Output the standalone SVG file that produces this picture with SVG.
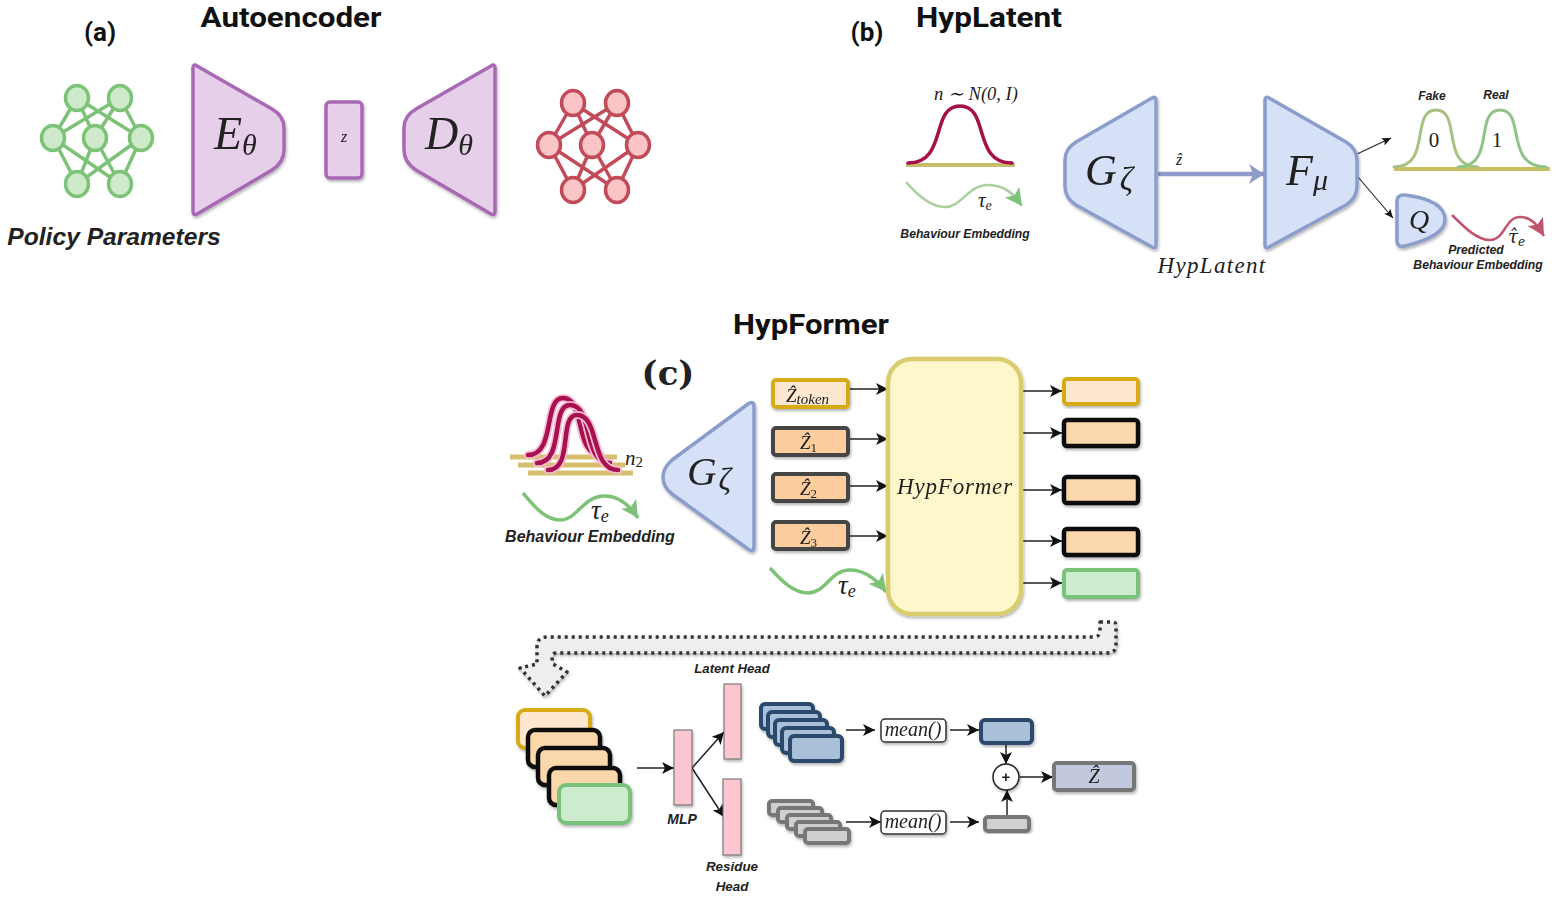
<svg xmlns="http://www.w3.org/2000/svg" width="1560" height="901" viewBox="0 0 1560 901">
<style>
.title{font-family:Roboto,"Open Sans",sans-serif;font-weight:700;fill:#111}
.math{font-family:"Liberation Serif",serif;font-style:italic;fill:#222}
.lab{font-family:"Liberation Sans",sans-serif;font-weight:700;font-style:italic;fill:#222}
.mid{text-anchor:middle}
.ln{fill:none;stroke:#222;stroke-width:1.5}
.thin{fill:none;stroke:#222;stroke-width:1.1}
.pur{fill:#e6d0e9;stroke:#a868b4;stroke-width:3.5;stroke-linejoin:round}
.blu{fill:#d6e1f8;stroke:#8a9dcb;stroke-width:3.5;stroke-linejoin:round}
.gn{fill:#cfe9cb;stroke:#7cc377;stroke-width:3.5}
.rn{fill:#fbc5c7;stroke:#c24b5a;stroke-width:3.5}
.gold{fill:#fde8cf;stroke:#d6ab12;stroke-width:4}
.blk{fill:#fbd8ac;stroke:#111;stroke-width:4.5}
.dk{fill:#fdcd9e;stroke:#444;stroke-width:4}
.grn{fill:#cdebcd;stroke:#78c27a;stroke-width:4}
.nav{fill:#a9c0d8;stroke:#2b4a6c;stroke-width:4}
.gry{fill:#cfcfcf;stroke:#777;stroke-width:4}
.pink{fill:#fbc6d0;stroke:#666;stroke-width:1}
.mean{fill:#fff;stroke:#333;stroke-width:1.5}
.bell{fill:none;stroke-linecap:round}
</style>
<defs>
<filter id="sh" x="-20%" y="-20%" width="140%" height="140%"><feDropShadow dx="1" dy="2" stdDeviation="1.5" flood-color="#000" flood-opacity="0.3"/></filter>
<marker id="a" markerUnits="userSpaceOnUse" markerWidth="14" markerHeight="12" refX="12" refY="6" orient="auto"><path d="M0 0L12 6L0 12L3 6Z" fill="#111"/></marker>
<marker id="as" markerUnits="userSpaceOnUse" markerWidth="10" markerHeight="8" refX="9" refY="4" orient="auto"><path d="M0 0L9 4L0 8L2 4Z" fill="#111"/></marker>
<marker id="ab" markerUnits="userSpaceOnUse" markerWidth="18" markerHeight="20" refX="15" refY="10" orient="auto"><path d="M0 0L15 10L0 20L4 10Z" fill="#8f9ccb"/></marker>
<marker id="ag" markerUnits="userSpaceOnUse" markerWidth="20" markerHeight="20" refX="17" refY="9" orient="auto"><path d="M0 0L17 9L0 18L4 9Z" fill="#7cc377"/></marker>
<marker id="ar" markerUnits="userSpaceOnUse" markerWidth="20" markerHeight="20" refX="17" refY="9" orient="auto"><path d="M0 0L17 9L0 18L4 9Z" fill="#c0566e"/></marker>
</defs>
<rect width="1560" height="901" fill="#fff"/>

<g id="titles">
<text class="title" x="291" y="26.5" font-size="28.5" text-anchor="middle" textLength="181" lengthAdjust="spacingAndGlyphs">Autoencoder</text>
<text class="title" x="100" y="41" font-size="26" text-anchor="middle">(a)</text>
<text class="title" x="989" y="26.5" font-size="28.5" text-anchor="middle" textLength="146" lengthAdjust="spacingAndGlyphs">HypLatent</text>
<text class="title" x="867" y="41" font-size="26" text-anchor="middle">(b)</text>
<text class="title" x="811" y="334" font-size="28.5" text-anchor="middle" textLength="156" lengthAdjust="spacingAndGlyphs">HypFormer</text>
<text x="668" y="385" font-size="34" font-weight="700" text-anchor="middle" font-family="'DejaVu Serif',serif" fill="#222">(c)</text>
</g>

<g id="connectors">
<path fill="none" stroke="#7cc377" stroke-width="3.5" d="M77 98L53 138M77 98L95 138M77 98L141 138M120 98L53 138M120 98L95 138M120 98L141 138M53 138L77 184M95 138L77 184M141 138L77 184M53 138L120 184M95 138L120 184M141 138L120 184"/>
<path fill="none" stroke="#c24b5a" stroke-width="3.5" d="M573 103L549 145M573 103L592 145M573 103L638 145M617 103L549 145M617 103L592 145M617 103L638 145M549 145L573 190M592 145L573 190M638 145L573 190M549 145L617 190M592 145L617 190M638 145L617 190"/>
<line x1="1158" y1="174" x2="1264" y2="174" fill="none" stroke="#8f9ccb" stroke-width="4.5" marker-end="url(#ab)"/>
<line class="thin" x1="1355" y1="155" x2="1391" y2="138" marker-end="url(#as)"/>
<line class="thin" x1="1358" y1="177" x2="1393" y2="218" marker-end="url(#as)"/>
<path fill="none" stroke="#a9cf9f" stroke-width="2.5" marker-end="url(#ag)" d="M906 182C920 198 932 207 945 207C962 207 968 185 988 185C1006 185 1014 195 1022 206"/>
<path fill="none" stroke="#c0566e" stroke-width="2.5" marker-end="url(#ar)" d="M1452 215C1465 228 1477 240 1490 240C1505 240 1505 217 1520 217C1532 217 1538 226 1544 236"/>
<path fill="none" stroke="#7cc377" stroke-width="3.5" marker-end="url(#ag)" d="M523 493C535 507 545 520 560 520C578 520 582 496 605 496C620 496 630 506 638 518"/>
<path fill="none" stroke="#7cc377" stroke-width="3.5" marker-end="url(#ag)" d="M770 568C782 581 793 593 808 593C826 593 830 570 850 570C866 570 877 580 886 592"/>
<line class="ln" x1="849" y1="389" x2="888" y2="389" marker-end="url(#a)"/>
<line class="ln" x1="849" y1="439" x2="888" y2="439" marker-end="url(#a)"/>
<line class="ln" x1="849" y1="486" x2="888" y2="486" marker-end="url(#a)"/>
<line class="ln" x1="849" y1="536" x2="888" y2="536" marker-end="url(#a)"/>
<line class="ln" x1="1023" y1="391" x2="1062" y2="391" marker-end="url(#a)"/>
<line class="ln" x1="1023" y1="433" x2="1062" y2="433" marker-end="url(#a)"/>
<line class="ln" x1="1023" y1="490" x2="1062" y2="490" marker-end="url(#a)"/>
<line class="ln" x1="1023" y1="541" x2="1062" y2="541" marker-end="url(#a)"/>
<line class="ln" x1="1023" y1="583" x2="1062" y2="583" marker-end="url(#a)"/>
<path id="flow-arrow" filter="url(#sh)" fill="#eee" stroke="#333" stroke-width="3.5" stroke-dasharray="3 4" stroke-linejoin="round" d="M1100 622L1113 622Q1116 622 1116 626L1116 645Q1116 653 1107 653L556 653Q552 653 552 658L553 664L567 672L545 696L520 668L537 664L537 647Q537 637 547 637L1093 637Q1100 637 1100 631Z"/>
<line class="ln" x1="637" y1="768" x2="674" y2="768" marker-end="url(#a)"/>
<line class="ln" x1="692" y1="768" x2="724" y2="732" marker-end="url(#a)"/>
<line class="ln" x1="692" y1="768" x2="724" y2="817" marker-end="url(#a)"/>
<line class="ln" x1="846" y1="730" x2="875" y2="730" marker-end="url(#a)"/>
<line class="ln" x1="950" y1="730" x2="979" y2="730" marker-end="url(#a)"/>
<line class="ln" x1="1006" y1="744" x2="1006" y2="764" marker-end="url(#a)"/>
<line class="ln" x1="1020" y1="777" x2="1053" y2="777" marker-end="url(#a)"/>
<line class="ln" x1="846" y1="822" x2="881" y2="822" marker-end="url(#a)"/>
<line class="ln" x1="950" y1="822" x2="979" y2="822" marker-end="url(#a)"/>
<line class="ln" x1="1007" y1="815" x2="1007" y2="790" marker-end="url(#a)"/>
</g>

<g id="input-network">
<ellipse class="gn" cx="77" cy="98" rx="11.5" ry="12.5"/><ellipse class="gn" cx="120" cy="98" rx="11.5" ry="12.5"/>
<ellipse class="gn" cx="53" cy="138" rx="11.5" ry="12.5"/><ellipse class="gn" cx="95" cy="138" rx="11.5" ry="12.5"/><ellipse class="gn" cx="141" cy="138" rx="11.5" ry="12.5"/>
<ellipse class="gn" cx="77" cy="184" rx="11.5" ry="12.5"/><ellipse class="gn" cx="120" cy="184" rx="11.5" ry="12.5"/>
<text class="lab" x="114" y="245" font-size="24.6" text-anchor="middle">Policy Parameters</text>
</g>
<g id="encoder" filter="url(#sh)">
<path class="pur" d="M193 68Q193 63 197 66L272 109Q284 116 284 128L284 150Q284 162 272 170L197 214Q193 216 193 211Z"/>
<text class="math" x="214" y="149" font-size="46">E<tspan font-size="30" dy="6">θ</tspan></text>
</g>
<g id="latent-z" filter="url(#sh)">
<rect class="pur" x="326" y="102" width="36" height="76" rx="4"/>
<text class="math mid" x="344" y="142" font-size="16">z</text>
</g>
<g id="decoder" filter="url(#sh)">
<path class="pur" d="M495 68Q495 63 491 66L416 109Q404 116 404 128L404 150Q404 162 416 170L491 214Q495 216 495 211Z"/>
<text class="math" x="425" y="149" font-size="46">D<tspan font-size="30" dy="6">θ</tspan></text>
</g>
<g id="output-network">
<ellipse class="rn" cx="573" cy="103" rx="11.5" ry="12.5"/><ellipse class="rn" cx="617" cy="103" rx="11.5" ry="12.5"/>
<ellipse class="rn" cx="549" cy="145" rx="11.5" ry="12.5"/><ellipse class="rn" cx="592" cy="145" rx="11.5" ry="12.5"/><ellipse class="rn" cx="638" cy="145" rx="11.5" ry="12.5"/>
<ellipse class="rn" cx="573" cy="190" rx="11.5" ry="12.5"/><ellipse class="rn" cx="617" cy="190" rx="11.5" ry="12.5"/>
</g>

<g id="noise-b">
<line x1="906" y1="165" x2="1015" y2="165" stroke="#c8bd6a" stroke-width="4"/>
<path class="bell" stroke="#a50f4a" stroke-width="3.5" d="M908 163C948 163 930 106 960 106C990 106 972 163 1012 163"/>
<text class="math mid" x="976" y="100" font-size="18.5">n ∼ N(0, I)</text>
<text class="math" x="978" y="207" font-size="21">τ<tspan font-size="14" dy="3">e</tspan></text>
<text class="lab mid" x="965" y="238" font-size="12.2">Behaviour Embedding</text>
</g>
<g id="generator-b" filter="url(#sh)">
<path class="blu" d="M1156 100Q1156 96 1152 98L1076 142Q1065 149 1065 160L1065 186Q1065 198 1076 205L1152 247Q1156 249 1156 245Z"/>
<text class="math" x="1085" y="185" font-size="44">G<tspan font-size="33" dx="3" dy="5">ζ</tspan></text>
</g>
<text class="math mid" x="1179" y="165" font-size="16">ẑ</text>
<text class="math mid" x="1212" y="273" font-size="23" letter-spacing="1.3">HypLatent</text>
<g id="discriminator-b" filter="url(#sh)">
<path class="blu" d="M1265 100Q1265 96 1269 98L1346 142Q1357 149 1357 160L1357 186Q1357 198 1346 205L1269 247Q1265 249 1265 245Z"/>
<text class="math" x="1286" y="185" font-size="44">F<tspan font-size="30" dy="5">μ</tspan></text>
</g>
<g id="q-head" filter="url(#sh)">
<path class="blu" d="M1397 202Q1397 194 1405 195Q1445 200 1445 220Q1445 236 1405 246Q1397 248 1397 240Z"/>
<text class="math mid" x="1419" y="229" font-size="28">Q</text>
</g>
<g id="real-fake">
<line x1="1394" y1="169" x2="1550" y2="169" stroke="#c8c060" stroke-width="4"/>
<path class="bell" stroke="#a9c083" stroke-width="3" d="M1394 167C1432 167 1410 110 1436 110C1462 110 1440 167 1478 167"/>
<path class="bell" stroke="#8fc486" stroke-width="3" d="M1458 167C1496 167 1474 110 1500 110C1526 110 1504 167 1546 167"/>
<text class="math mid" x="1434" y="147" font-size="21" style="font-style:normal">0</text>
<text class="math mid" x="1497" y="147" font-size="21" style="font-style:normal">1</text>
<text class="lab mid" x="1432" y="100" font-size="12">Fake</text>
<text class="lab mid" x="1496" y="99" font-size="12">Real</text>
</g>
<text x="1508" y="243" font-size="18" font-style="italic" font-family="'DejaVu Serif',serif" fill="#222">τ̂<tspan font-size="12" dy="3">e</tspan></text>
<text class="lab mid" x="1476" y="254" font-size="12.2">Predicted</text>
<text class="lab mid" x="1478" y="269" font-size="12.2">Behaviour Embedding</text>

<g id="noise-c">
<path fill="none" stroke="#d8bf6e" stroke-width="5" d="M510 457H617M518 465H625M528 473H633"/>
<path class="bell" stroke="#f6bcd3" stroke-width="8" d="M528 455C556 455 543 398 563 398C586 398 574 455 601 455"/>
<path class="bell" stroke="#a8104f" stroke-width="4.5" d="M528 455C556 455 543 398 563 398C586 398 574 455 601 455"/>
<path class="bell" stroke="#f6bcd3" stroke-width="8" d="M537 463C565 463 550 405 570 405C594 405 582 463 610 463"/>
<path class="bell" stroke="#a8104f" stroke-width="4.5" d="M537 463C565 463 550 405 570 405C594 405 582 463 610 463"/>
<path class="bell" stroke="#f6bcd3" stroke-width="8" d="M548 470C574 470 558 415 577 415C600 415 590 470 618 470"/>
<path class="bell" stroke="#a8104f" stroke-width="4.5" d="M548 470C574 470 558 415 577 415C600 415 590 470 618 470"/>
<text class="math" x="625" y="465" font-size="21">n<tspan font-size="15" dy="2" style="font-style:normal">2</tspan></text>
<text class="math" x="591" y="519" font-size="27">τ<tspan font-size="18" dy="3">e</tspan></text>
<text class="lab mid" x="590" y="542" font-size="16">Behaviour Embedding</text>
</g>
<g id="generator-c" filter="url(#sh)">
<path class="blu" d="M754 407Q754 400 748 404L672 460Q663 468 663 477Q663 487 672 494L748 549Q754 553 754 546Z"/>
<text class="math" x="687" y="485" font-size="41">G<tspan font-size="31" dx="2" dy="5">ζ</tspan></text>
</g>
<g id="z-token" filter="url(#sh)"><rect class="gold" x="773" y="380" width="75" height="27" rx="3"/><text class="math" x="786" y="402" font-size="19">Ẑ<tspan font-size="15" dy="2">token</tspan></text></g>
<g id="z-1" filter="url(#sh)"><rect class="dk" x="773" y="428" width="75" height="27" rx="3"/><text class="math" x="800" y="449" font-size="19">Ẑ<tspan font-size="13" dy="3" style="font-style:normal">1</tspan></text></g>
<g id="z-2" filter="url(#sh)"><rect class="dk" x="773" y="474" width="75" height="27" rx="3"/><text class="math" x="800" y="495" font-size="19">Ẑ<tspan font-size="13" dy="3" style="font-style:normal">2</tspan></text></g>
<g id="z-3" filter="url(#sh)"><rect class="dk" x="773" y="522" width="75" height="27" rx="3"/><text class="math" x="800" y="544" font-size="19">Ẑ<tspan font-size="13" dy="3" style="font-style:normal">3</tspan></text></g>
<text class="math" x="838" y="594" font-size="27">τ<tspan font-size="18" dy="3">e</tspan></text>
<g id="hypformer" filter="url(#sh)">
<rect x="888" y="359" width="133" height="255" rx="24" fill="#fdf7cb" stroke="#d9cc6e" stroke-width="4.5"/>
<text class="math mid" x="955" y="494" font-size="23" letter-spacing="0.8">HypFormer</text>
</g>
<g id="out-token" filter="url(#sh)"><rect class="gold" x="1064" y="379" width="74" height="25" rx="3"/></g>
<g id="out-1" filter="url(#sh)"><rect class="blk" x="1064" y="420" width="74" height="26" rx="3"/></g>
<g id="out-2" filter="url(#sh)"><rect class="blk" x="1064" y="477" width="74" height="26" rx="3"/></g>
<g id="out-3" filter="url(#sh)"><rect class="blk" x="1064" y="529" width="74" height="26" rx="3"/></g>
<g id="out-tau" filter="url(#sh)"><rect class="grn" x="1064" y="570" width="74" height="27" rx="3"/></g>

<g id="token-stack" filter="url(#sh)">
<rect class="gold" x="518" y="710" width="72" height="38" rx="7"/>
<rect class="blk" x="528" y="730" width="72" height="37" rx="7"/>
<rect class="blk" x="538" y="748" width="72" height="37" rx="7"/>
<rect class="blk" x="549" y="768" width="71" height="37" rx="7"/>
<rect class="grn" x="559" y="785" width="71" height="38" rx="7"/>
</g>
<g id="mlp"><rect class="pink" x="674" y="730" width="18" height="75" filter="url(#sh)"/><text class="lab mid" x="682" y="824" font-size="14">MLP</text></g>
<g id="latent-head"><rect class="pink" x="724" y="684" width="17" height="75" filter="url(#sh)"/><text class="lab mid" x="732" y="673" font-size="13.2">Latent Head</text></g>
<g id="residue-head"><rect class="pink" x="723" y="779" width="18" height="76" filter="url(#sh)"/><text class="lab mid" x="732" y="871" font-size="13.4">Residue</text><text class="lab mid" x="732" y="891" font-size="13.4">Head</text></g>
<g id="latent-stack" filter="url(#sh)">
<rect class="nav" x="761" y="704" width="52" height="25" rx="4"/>
<rect class="nav" x="768" y="712" width="52" height="25" rx="4"/>
<rect class="nav" x="775" y="720" width="52" height="25" rx="4"/>
<rect class="nav" x="782" y="728" width="52" height="25" rx="4"/>
<rect class="nav" x="790" y="736" width="52" height="25" rx="4"/>
</g>
<g id="residue-stack" filter="url(#sh)">
<rect class="gry" x="769" y="801" width="44" height="14" rx="3"/>
<rect class="gry" x="778" y="808" width="44" height="14" rx="3"/>
<rect class="gry" x="787" y="815" width="44" height="14" rx="3"/>
<rect class="gry" x="796" y="822" width="44" height="14" rx="3"/>
<rect class="gry" x="805" y="829" width="44" height="14" rx="3"/>
</g>
<g id="mean-1" filter="url(#sh)"><rect class="mean" x="881" y="719" width="65" height="23" rx="4"/><text class="math mid" x="913" y="736" font-size="20">mean()</text></g>
<g id="mean-2" filter="url(#sh)"><rect class="mean" x="881" y="811" width="65" height="23" rx="4"/><text class="math mid" x="913" y="828" font-size="20">mean()</text></g>
<g id="latent-mean" filter="url(#sh)"><rect class="nav" x="981" y="720" width="51" height="23" rx="4"/></g>
<g id="residue-mean" filter="url(#sh)"><rect class="gry" x="985" y="817" width="44" height="14" rx="3"/></g>
<g id="sum" filter="url(#sh)"><circle cx="1006" cy="777" r="13" fill="#fff" stroke="#222" stroke-width="1.5"/><text class="mid" x="1006" y="782" font-size="15" font-weight="700" font-family="'Liberation Sans',sans-serif" fill="#222">+</text></g>
<g id="z-hat" filter="url(#sh)"><rect x="1054" y="763" width="80" height="27" rx="3" fill="#c2c9df" stroke="#777" stroke-width="4"/><text class="math mid" x="1094" y="783" font-size="20">Ẑ</text></g>
</svg>
